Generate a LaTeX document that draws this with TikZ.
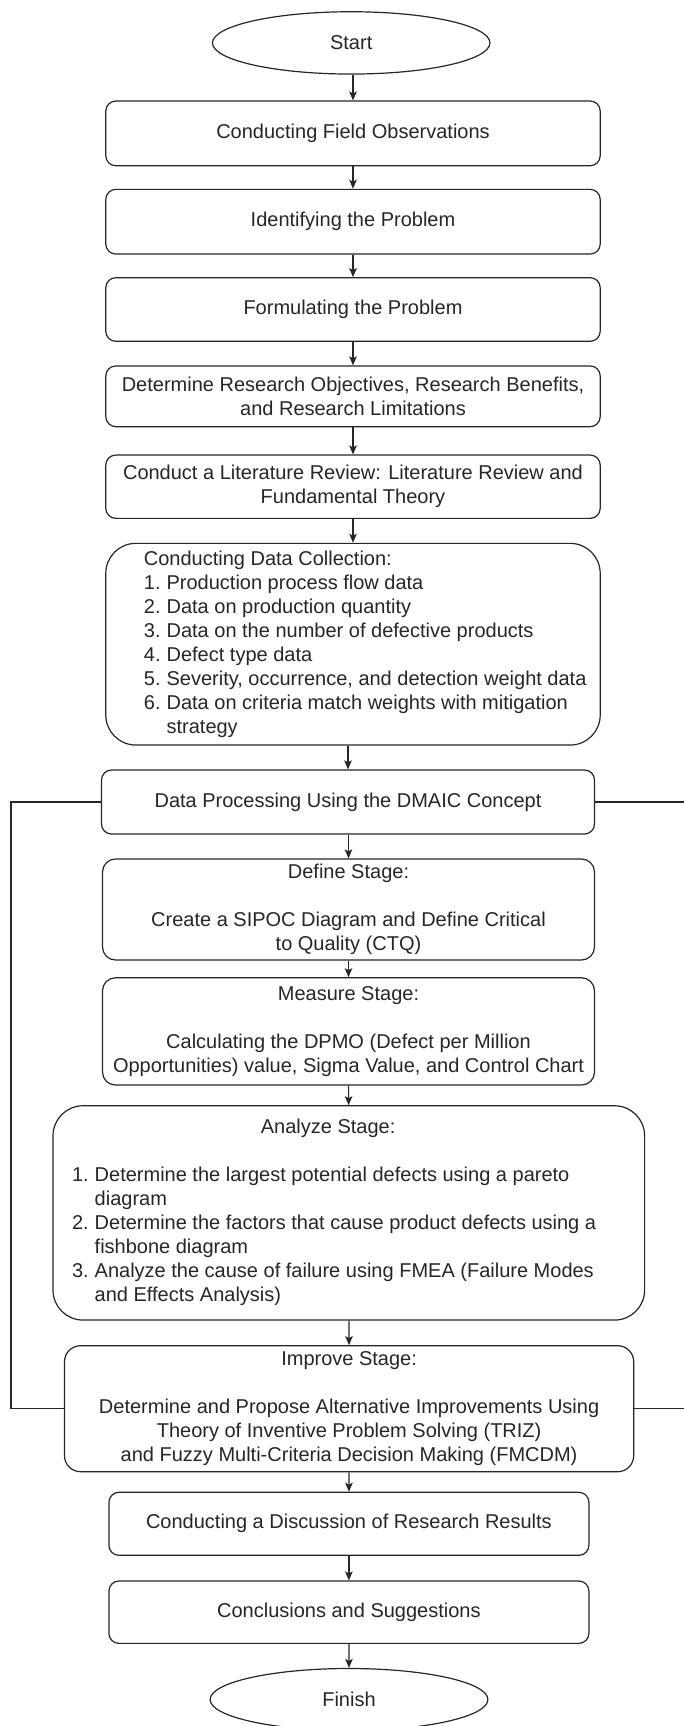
\documentclass[tikz,border=0pt]{standalone}
\usepackage{fontspec}
\setmainfont{Liberation Sans}
\usetikzlibrary{arrows.meta,shapes.geometric}

\definecolor{ink}{RGB}{38,38,38}

\begin{document}
\begin{tikzpicture}[x=1pt,y=-1pt,
  every node/.style={font=\fontsize{20}{24}\selectfont, text=ink},
  box/.style={draw=ink, line width=1.2pt, rounded corners=10pt, inner sep=0pt, align=center},
  term/.style={draw=ink, line width=1.2pt, ellipse, inner sep=0pt},
  listtext/.style={inner sep=0pt, anchor=west},
  flow/.style={draw=ink, line width=1.2pt, -{Stealth[length=9pt,width=7.5pt,inset=2pt]}},
  loopline/.style={draw=ink, line width=1.2pt},
]
\useasboundingbox (0,0) rectangle (683,1726);

% terminals
\node[term, minimum width=277.5pt, minimum height=62.3pt] (start) at (351.2,42.9) {Start};
\node[term, minimum width=277.8pt, minimum height=62pt] (finish) at (349,1699.5) {Finish};

% preparation steps
\node[box, minimum width=494.4pt, minimum height=64.7pt] (obs) at (353,133.4) {Conducting Field Observations};
\node[box, minimum width=494.4pt, minimum height=64.7pt] (ident) at (353,221.7) {Identifying the Problem};
\node[box, minimum width=494.4pt, minimum height=63.6pt] (form) at (353,309.5) {Formulating the Problem};
\node[box, minimum width=494.4pt, minimum height=60.7pt] (obj) at (353,396.3)
  {Determine Research Objectives, Research Benefits,\\and Research Limitations};
\node[box, minimum width=494.4pt, minimum height=63.3pt] (lit) at (353,486.7)
  {Conduct a Literature Review: Literature Review and\\Fundamental Theory};

% data collection
\node[box, rounded corners=30pt, minimum width=494.4pt, minimum height=201.7pt] (dc) at (353,644.2) {};
\node[listtext] (dctext) at (143.7,644.7) {%
  \begin{tabular}{@{}p{22.7pt}@{}l@{}}
  \multicolumn{2}{@{}l@{}}{Conducting Data Collection:}\\
  1. & Production process flow data\\
  2. & Data on production quantity\\
  3. & Data on the number of defective products\\
  4. & Defect type data\\
  5. & Severity, occurrence, and detection weight data\\
  6. & Data on criteria match weights with mitigation\\
     & strategy
  \end{tabular}};

% DMAIC
\node[box, minimum width=493pt, minimum height=64pt] (dmaic) at (348,802) {Data Processing Using the DMAIC Concept};
\node[box, rounded corners=13pt, minimum width=492pt, minimum height=101pt] (define) at (348.5,909.5)
  {Define Stage:\\[24pt]Create a SIPOC Diagram and Define Critical\\to Quality (CTQ)};
\node[box, rounded corners=13pt, minimum width=492pt, minimum height=107.3pt] (measure) at (348.5,1031.4)
  {Measure Stage:\\[24pt]Calculating the DPMO (Defect per Million\\Opportunities) value, Sigma Value, and Control Chart};
\node[box, rounded corners=30pt, minimum width=591.6pt, minimum height=214.3pt] (analyze) at (348.8,1212.9) {};
\node[listtext] (antext) at (71.9,1212.5) {%
  \begin{tabular}{@{}p{22.6pt}@{}l@{}}
  \multicolumn{2}{@{}l@{}}{\hspace{256pt}\makebox[0pt]{Analyze Stage:}}\\
  \\
  1. & Determine the largest potential defects using a pareto\\
     & diagram\\
  2. & Determine the factors that cause product defects using a\\
     & fishbone diagram\\
  3. & Analyze the cause of failure using FMEA (Failure Modes\\
     & and Effects Analysis)
  \end{tabular}};
\node[box, rounded corners=16pt, minimum width=569.2pt, minimum height=126pt] (improve) at (349.1,1408.7)
  {Improve Stage:\\[24pt]Determine and Propose Alternative Improvements Using\\Theory of Inventive Problem Solving (TRIZ)\\and Fuzzy Multi-Criteria Decision Making (FMCDM)};

% closing steps
\node[box, minimum width=480pt, minimum height=63pt] (disc) at (348.9,1523.8) {Conducting a Discussion of Research Results};
\node[box, minimum width=480pt, minimum height=62.3pt] (concl) at (348.9,1612.2) {Conclusions and Suggestions};

% main flow
\draw[flow] (start.south -| obs.north) -- (obs.north);
\draw[flow] (obs) -- (ident);
\draw[flow] (ident) -- (form);
\draw[flow] (form) -- (obj);
\draw[flow] (obj) -- (lit);
\draw[flow] (lit) -- (dc);
\draw[flow] (dc.south -| dmaic.north) -- (dmaic.north);
\draw[flow] (dmaic.south -| define.north) -- (define.north);
\draw[flow] (define) -- (measure);
\draw[flow] (measure) -- (analyze);
\draw[flow] (analyze) -- (improve);
\draw[flow] (improve) -- (disc);
\draw[flow] (disc) -- (concl);
\draw[flow] (concl) -- (finish);

% DMAIC loop rails
\coordinate (lrail) at (11,0);
\coordinate (rrail) at (690,0);
\draw[loopline] (dmaic.west) -| (lrail |- improve.west) -- (improve.west);
\draw[loopline] (dmaic.east) -| (rrail |- improve.east) -- (improve.east);
\end{tikzpicture}
\end{document}
